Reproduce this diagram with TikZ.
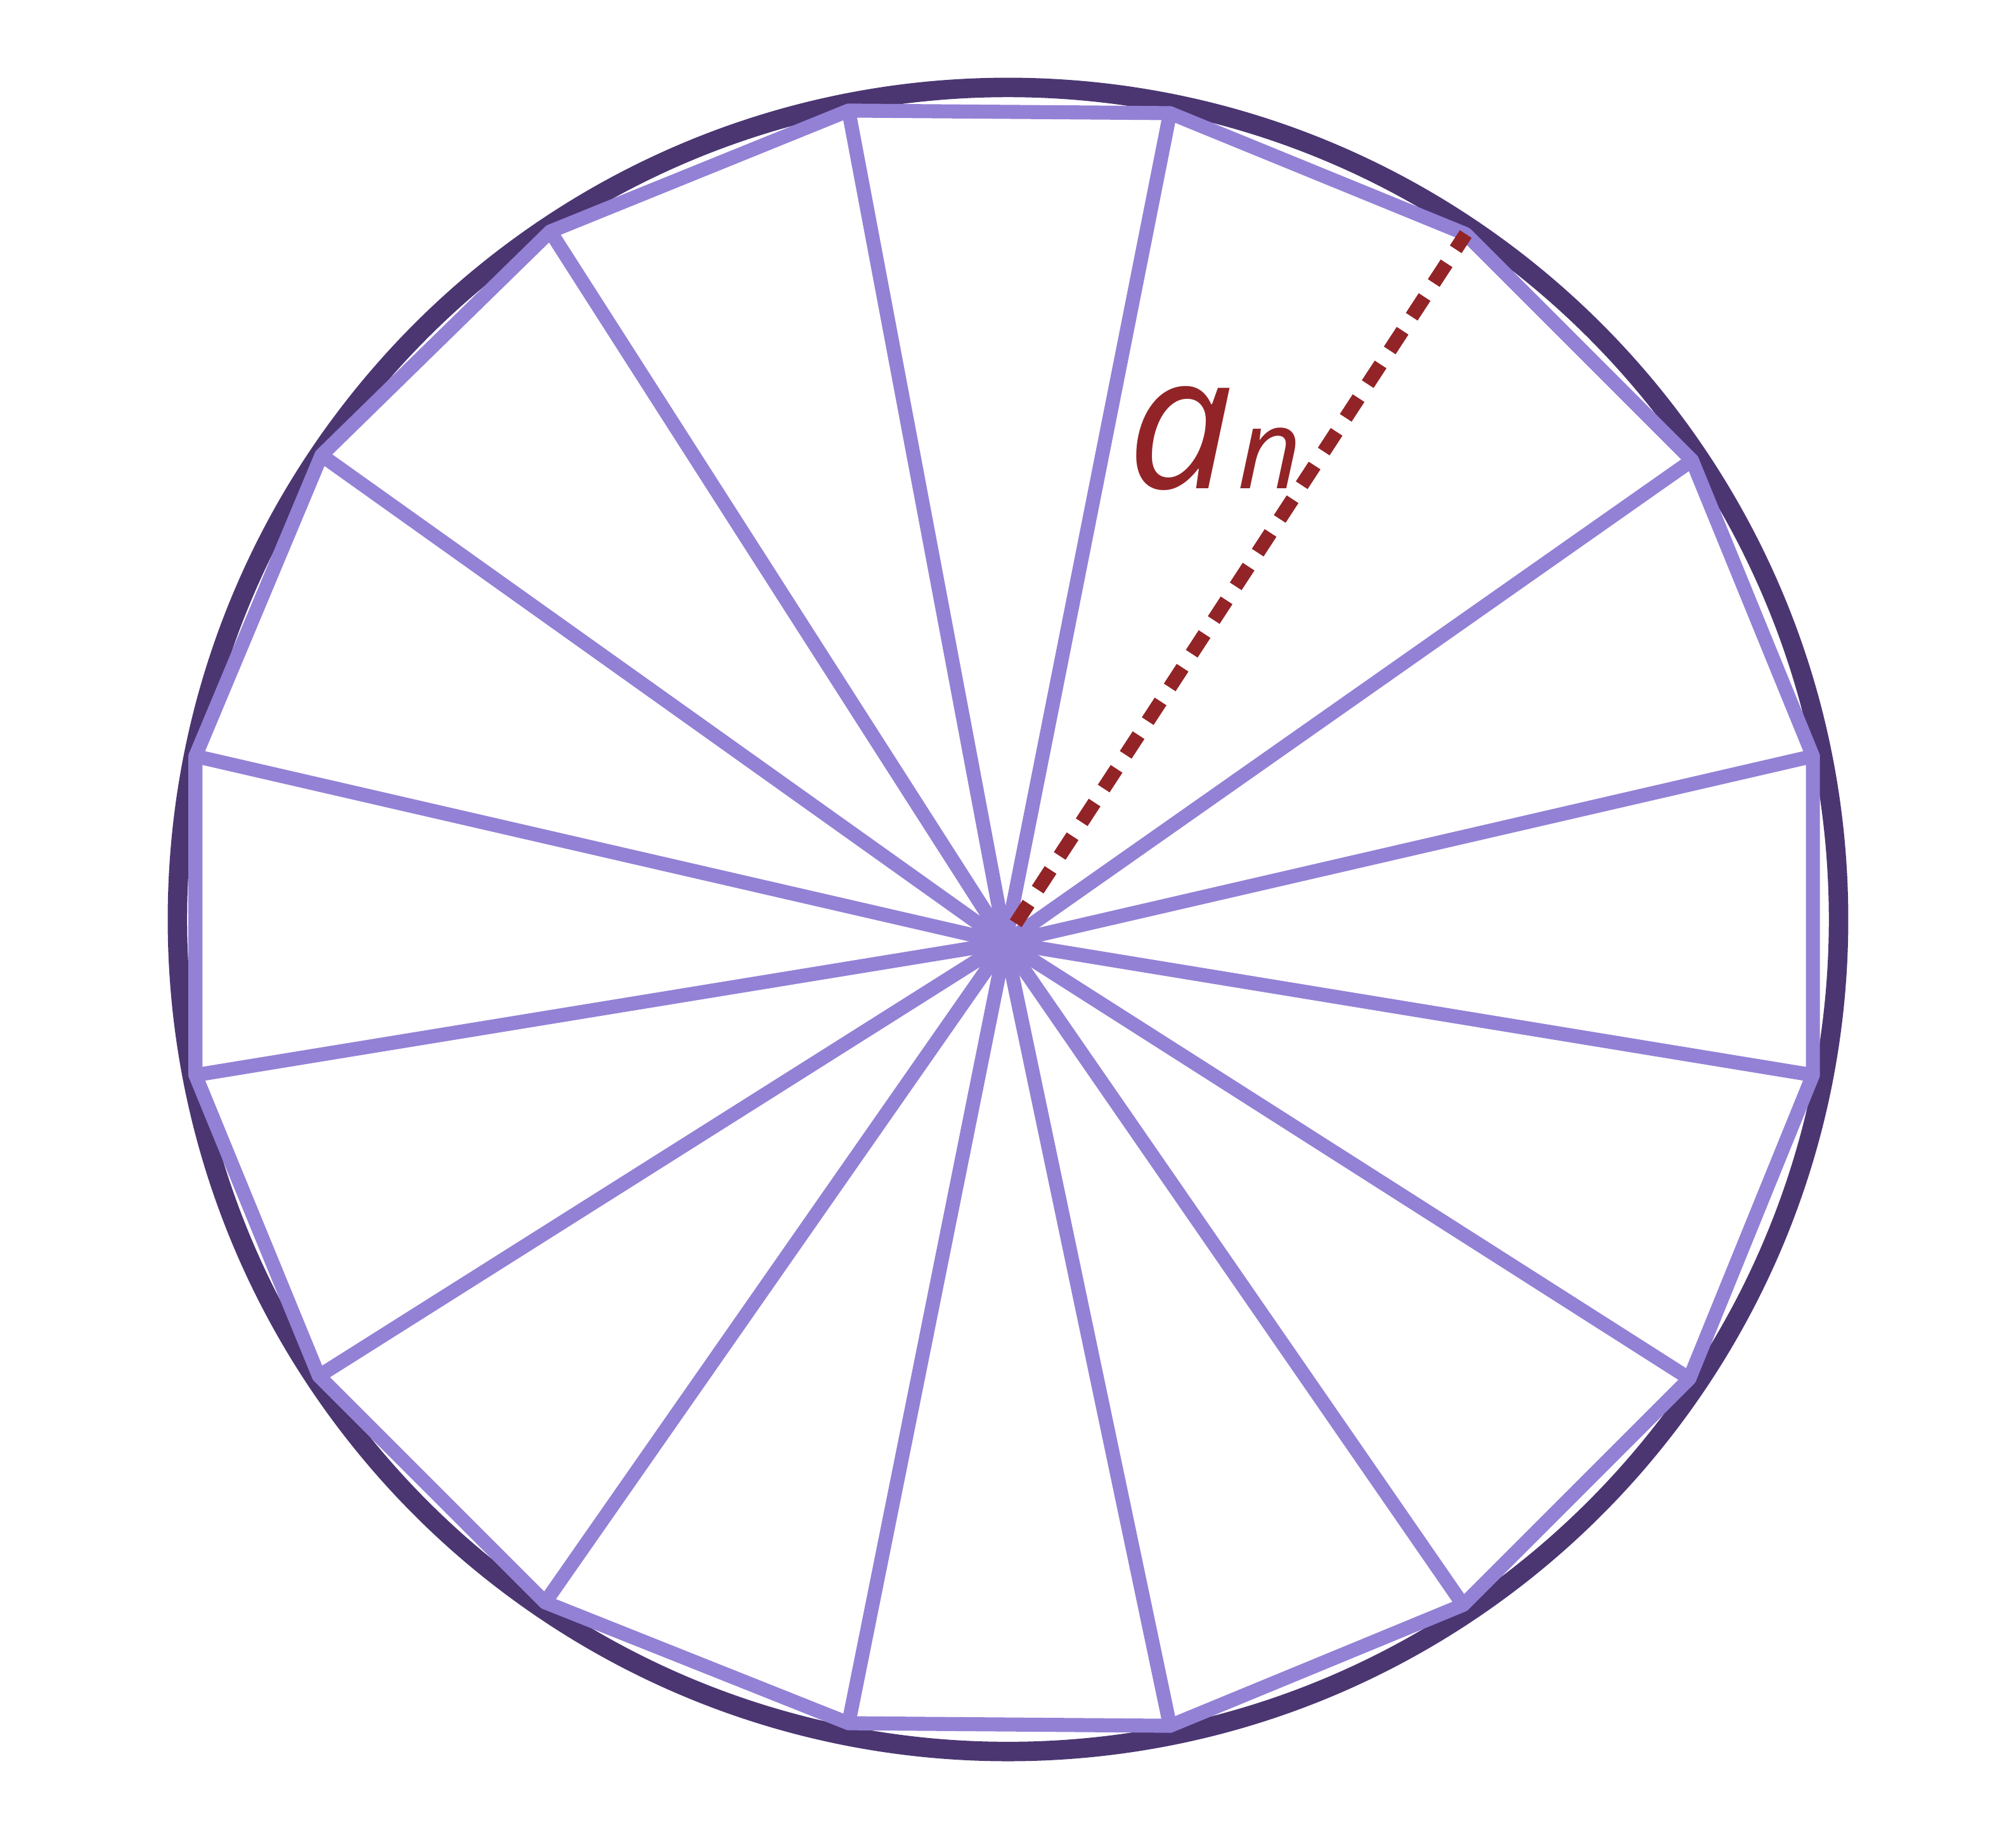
\documentclass[tikz,border=0pt]{standalone}
\usepackage{fontspec}
\newfontfamily\labfont{Open Sans}
\definecolor{lav}{RGB}{147,129,214}
\definecolor{dpurp}{RGB}{75,54,114}
\definecolor{dred}{RGB}{146,36,39}
\begin{document}
\begin{tikzpicture}[x=0.01cm,y=-0.01cm,
  rim/.style={draw=dpurp,line width=4.3pt},
  polyline/.style={draw=lav,line width=3.1pt,line join=round,line cap=round},
  radius line/.style={draw=dred,line width=3.1pt,dash pattern=on 5.2pt off 3.7pt}]
\useasboundingbox (0,0) rectangle (1568,1428);
\coordinate (O) at (784,715);
\coordinate (H) at (782,733);
\coordinate (R) at (790,718);
\coordinate (v1) at (660,86);
\coordinate (v2) at (910,88);
\coordinate (v3) at (1140,182);
\coordinate (v4) at (1316,358);
\coordinate (v5) at (1410,588);
\coordinate (v6) at (1410,836);
\coordinate (v7) at (1314,1072);
\coordinate (v8) at (1138,1248);
\coordinate (v9) at (910,1342);
\coordinate (v10) at (660,1340);
\coordinate (v11) at (424,1246);
\coordinate (v12) at (248,1070);
\coordinate (v13) at (152,836);
\coordinate (v14) at (152,588);
\coordinate (v15) at (250,354);
\coordinate (v16) at (428,180);
\draw[rim] (O) ellipse [x radius=646, y radius=647];
\draw[polyline] (v1) -- (v2) -- (v3) -- (v4) -- (v5) -- (v6) -- (v7) -- (v8) -- (v9) -- (v10) -- (v11) -- (v12) -- (v13) -- (v14) -- (v15) -- (v16) -- cycle;
\foreach \i in {1,2,4,5,6,7,8,9,10,11,12,13,14,15,16} { \draw[polyline] (H) -- (v\i); }
\draw[radius line] (R) -- (v3);
\node[anchor=base west,inner sep=0pt,text=dred] (lbl) at (876,380)
  {\labfont\itshape\fontsize{41.5}{44}\selectfont a\hspace{1pt}\fontsize{24.5}{27}\selectfont n};
\end{tikzpicture}
\end{document}
